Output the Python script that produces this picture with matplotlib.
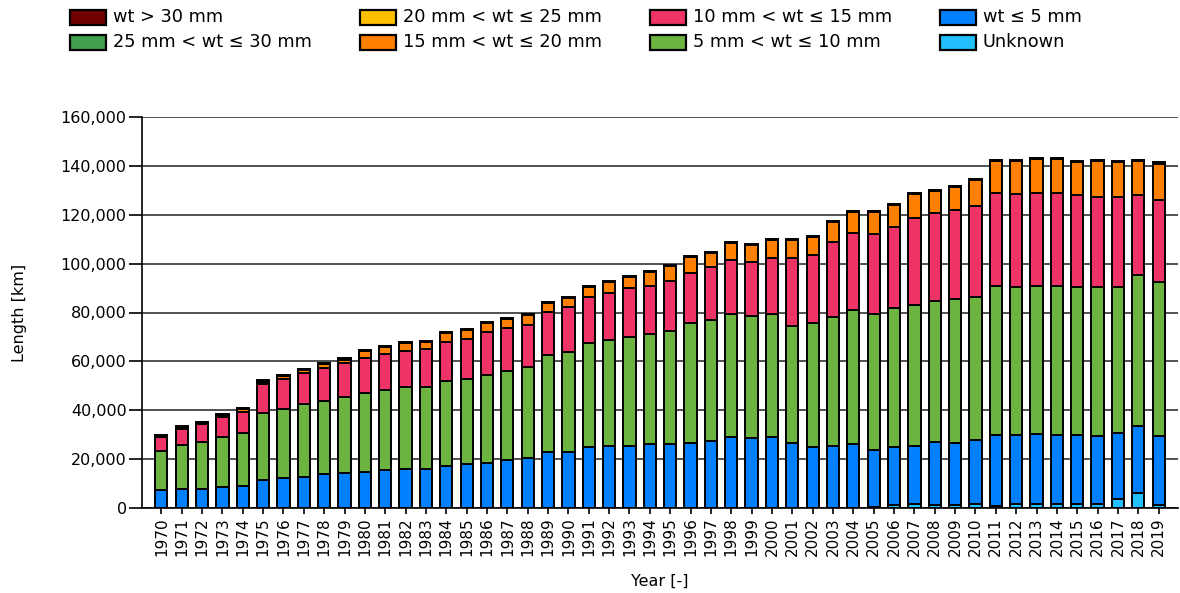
import matplotlib.pyplot as plt
import numpy as np
from matplotlib.patches import Rectangle
from matplotlib.ticker import FuncFormatter

plt.rcParams['font.family'] = ['DejaVu Sans']

# Data (km of pipeline by wall thickness class)
years = list(range(1970, 2020))

unknown = [0, 0, 0, 0, 0, 0, 0, 0, 0, 0,
           0, 0, 0, 0, 0, 0, 0, 0, 0, 0,
           0, 0, 0, 0, 0, 0, 0, 0, 0, 0,
           0, 0, 0, 0, 0, 500, 1200, 1800, 1300, 1300,
           1800, 1000, 1800, 1800, 1800, 1800, 1800, 3600, 6000, 1400]
wt_le5 = [7400, 7800, 7800, 8700, 9100, 11600, 12300, 12800, 13800, 14500,
          14900, 15500, 16100, 16000, 17200, 17900, 18500, 19600, 20300, 22800,
          23000, 24800, 25500, 25400, 26100, 26100, 26700, 27300, 29200, 28500,
          29200, 26700, 25100, 25500, 26100, 23200, 23600, 23600, 25800, 25200,
          26000, 28900, 28100, 28500, 28100, 28100, 27500, 27000, 27400, 27900]
wt_5_10 = [16000, 18000, 19200, 20200, 21600, 27300, 28300, 29800, 30000, 31000,
           32300, 32800, 33500, 33600, 34700, 34700, 35900, 36600, 37300, 39700,
           40800, 42700, 43200, 44700, 45100, 46200, 48900, 49600, 50000, 50100,
           50200, 47800, 50500, 52500, 54900, 55500, 56900, 57700, 57700, 58900,
           58700, 61100, 60400, 60700, 61100, 60400, 61000, 59700, 62000, 63200]
wt_10_15 = [5500, 6600, 7400, 8500, 8700, 11700, 12300, 12800, 13600, 13700,
            14300, 14700, 14600, 15300, 16100, 16600, 17500, 17300, 17300, 17800,
            18600, 18900, 19400, 19800, 19700, 20700, 20400, 21600, 22300, 22200,
            22800, 27700, 27900, 30900, 31400, 32800, 33100, 35700, 35800, 36500,
            37100, 38100, 38100, 38100, 38100, 37800, 37100, 37100, 32700, 33500]
wt_15_20 = [200, 200, 100, 200, 1000, 1000, 1100, 1100, 1500, 1500,
            2700, 3000, 3200, 3000, 3700, 3600, 3700, 3800, 4100, 3700,
            3700, 4100, 4200, 4700, 5800, 6000, 6800, 5900, 6800, 6800,
            7400, 7400, 7500, 8200, 8800, 9200, 9200, 9700, 9100, 9300,
            10600, 12700, 13400, 13600, 13800, 13300, 14700, 14000, 14000, 14600]
wt_20_25 = [100, 100, 100, 100, 100, 100, 100, 100, 100, 100,
            100, 100, 100, 100, 100, 100, 100, 100, 100, 100,
            100, 100, 100, 100, 100, 100, 100, 100, 100, 100,
            100, 100, 100, 100, 100, 100, 100, 100, 100, 100,
            100, 100, 100, 100, 100, 100, 100, 100, 100, 200]
wt_25_30 = [200, 200, 100, 200, 100, 100, 100, 100, 100, 100,
            100, 100, 100, 100, 100, 100, 100, 100, 100, 100,
            100, 100, 100, 100, 100, 100, 100, 100, 100, 100,
            100, 100, 100, 100, 100, 100, 100, 100, 100, 100,
            100, 100, 100, 100, 100, 100, 100, 100, 100, 200]
wt_gt30 = [500, 500, 300, 600, 200, 400, 400, 300, 300, 300,
           200, 200, 200, 200, 200, 200, 300, 200, 200, 300,
           200, 200, 200, 200, 200, 200, 200, 200, 300, 200,
           200, 200, 200, 300, 200, 200, 200, 200, 200, 300,
           200, 200, 200, 300, 300, 200, 300, 200, 300, 400]

series = [unknown, wt_le5, wt_5_10, wt_10_15, wt_15_20, wt_20_25, wt_25_30, wt_gt30]
labels = ['Unknown', 'wt ≤ 5 mm', '5 mm < wt ≤ 10 mm', '10 mm < wt ≤ 15 mm',
          '15 mm < wt ≤ 20 mm', '20 mm < wt ≤ 25 mm', '25 mm < wt ≤ 30 mm', 'wt > 30 mm']
colors = ['#22c0ff', '#0080ff', '#6db33f', '#ee3366',
          '#ff8000', '#ffc000', '#40a050', '#700000']

W, H = 1180, 593
fig = plt.figure(figsize=(W / 100, H / 100), dpi=100)
ax = fig.add_axes([142 / W, 1 - 508 / H, (1178 - 142) / W, (508 - 117) / H])

x = np.arange(len(years))
bottom = np.zeros(len(years))
for vals, col in zip(series, colors):
    ax.bar(x, vals, 0.6, bottom=bottom, color=col, edgecolor='black',
           linewidth=1.4, zorder=3)
    bottom += np.array(vals)

ax.set_xlim(-0.95, 49.95)
ax.set_ylim(0, 160000)
ax.set_yticks(range(0, 160001, 20000))
ax.yaxis.set_major_formatter(FuncFormatter(lambda v, p: f'{int(v):,}'))
ax.set_xticks(x)
ax.set_xticklabels([str(y) for y in years], rotation=90)
ax.grid(axis='y', color='#333333', linewidth=1.2, zorder=0)
ax.set_axisbelow(True)

for s in ['top', 'right']:
    ax.spines[s].set_visible(False)
for s in ['left', 'bottom']:
    ax.spines[s].set_linewidth(1.2)
ax.tick_params(axis='y', length=9.5, width=1.2, pad=1.5, labelsize=11.5)
ax.tick_params(axis='x', length=4, width=1.2, pad=2.5, labelsize=11)
ax.set_ylabel('Length [km]', fontsize=11.5, labelpad=24)
ax.set_xlabel('Year [-]', fontsize=11.5, labelpad=13)

# legend: 4 columns x 2 rows, reversed stacking order
order = list(range(len(labels)))[::-1]
for k, i in enumerate(order):
    col, row = k // 2, k % 2
    px = 70 + 290 * col
    py = 17 + 25 * row
    fig.add_artist(Rectangle((px / W, 1 - (py + 7.5) / H), 36 / W, 15 / H,
                             transform=fig.transFigure, facecolor=colors[i],
                             edgecolor='black', linewidth=1.6))
    fig.text((px + 43) / W, 1 - py / H, labels[i], fontsize=12.8,
             va='center', ha='left')

fig.savefig('out.png', dpi=100)
